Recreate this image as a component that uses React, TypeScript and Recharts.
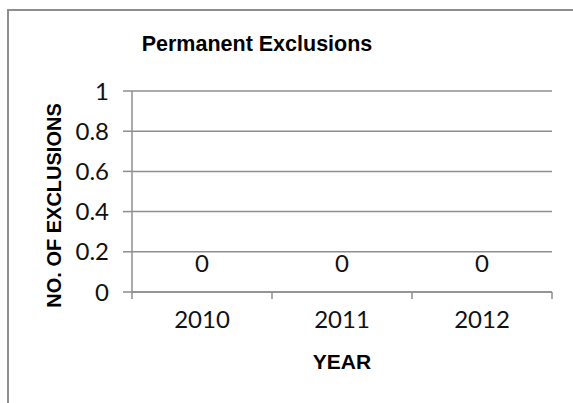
import { Bar, CartesianGrid, ComposedChart, LabelList, Line, XAxis, YAxis } from "recharts";

const years = ["2010", "2011", "2012"];
const exclusions = [0, 0, 0];
const yTicks = [0, 0.2, 0.4, 0.6, 0.8, 1];

const chartTitle = "Permanent Exclusions";
const xTitle = "YEAR";
const yTitle = "NO. OF EXCLUSIONS";

const GRAY = "#8e8e8e";
const LABEL_FONT = "Lato, 'Open Sans', sans-serif";
const TITLE_FONT = "'Liberation Sans', Arial, sans-serif";

const data = years.map((year, i) => ({ year, value: exclusions[i] }));

// category tick: label in the middle, short marks on the band edges
function YearTick(props: any) {
  const { x, y, payload, index, visibleTicksCount, width } = props;
  const band = width / visibleTicksCount;
  const left = x - band / 2;
  const isLast = index === visibleTicksCount - 1;
  return (
    <g>
      <line x1={left} x2={left} y1={y} y2={y + 7} stroke={GRAY} strokeWidth={1.5} />
      {isLast && (
        <line x1={left + band} x2={left + band} y1={y} y2={y + 7} stroke={GRAY} strokeWidth={1.5} />
      )}
      <text x={x} y={y + 30} textAnchor="middle" dominantBaseline="middle" fontFamily={LABEL_FONT} fontSize={24} fill="#111">
        {payload.value}
      </text>
    </g>
  );
}

// data label above each point (bars of height 0 get no label of their own)
function ValueLabel(props: any) {
  const box = props.viewBox && props.viewBox.x != null ? props.viewBox : props;
  const { x, y, width } = box;
  if (x == null || y == null) return null;
  return (
    <text x={x + (width || 0) / 2} y={y - 26} textAnchor="middle" dominantBaseline="middle" fontFamily={LABEL_FONT} fontSize={24} fill="#111">
      {String(props.value)}
    </text>
  );
}

function YTitle(props: any) {
  const { viewBox } = props;
  const cx = viewBox.x - 16;
  const cy = viewBox.y + viewBox.height / 2 + 14;
  return (
    <text
      x={cx}
      y={cy}
      transform={`rotate(-90, ${cx}, ${cy})`}
      textAnchor="middle"
      dominantBaseline="middle"
      fontFamily={TITLE_FONT}
      fontWeight="bold"
      fontSize={20}
      fill="#000"
    >
      {yTitle}
    </text>
  );
}

export default function App() {
  return (
    <div style={{ position: "absolute", left: 0, top: 0, width: 573, height: 403, background: "#fff" }}>
      <div
        style={{
          position: "absolute",
          left: 7,
          top: 9,
          width: 580,
          height: 410,
          borderTop: `2px solid ${GRAY}`,
          borderLeft: `2px solid ${GRAY}`,
        }}
      />
      <div
        style={{
          position: "absolute",
          left: 0,
          width: 514,
          top: 32,
          textAlign: "center",
          fontFamily: TITLE_FONT,
          fontWeight: "bold",
          fontSize: 21.5,
          color: "#000",
        }}
      >
        {chartTitle}
      </div>
      <div style={{ position: "absolute", left: 0, top: 0 }}>
        <ComposedChart width={573} height={403} data={data} margin={{ top: 91, right: 21, bottom: 31, left: 72 }}>
          <CartesianGrid vertical={false} stroke={GRAY} strokeWidth={1.5} />
          <XAxis
            dataKey="year"
            height={80}
            axisLine={{ stroke: GRAY, strokeWidth: 1.5 }}
            tickLine={false}
            tickSize={0}
            tickMargin={0}
            tick={<YearTick />}
            interval={0}
            label={{
              value: xTitle,
              position: "insideBottom",
              offset: 3,
              fontFamily: TITLE_FONT,
              fontWeight: "bold",
              fontSize: 21,
              fill: "#000",
            }}
          />
          <YAxis
            width={60}
            domain={[0, 1]}
            ticks={yTicks}
            interval={0}
            axisLine={{ stroke: GRAY, strokeWidth: 1.5 }}
            tickLine={{ stroke: GRAY, strokeWidth: 1.5 }}
            tickSize={9}
            tickMargin={14}
            tick={{ fontFamily: LABEL_FONT, fontSize: 24, fill: "#111" }}
            label={<YTitle />}
          />
          <Bar dataKey="value" fill="#4f81bd" isAnimationActive={false} />
          <Line dataKey="value" stroke="none" dot={false} activeDot={false} isAnimationActive={false}>
            <LabelList dataKey="value" content={<ValueLabel />} />
          </Line>
        </ComposedChart>
      </div>
    </div>
  );
}
